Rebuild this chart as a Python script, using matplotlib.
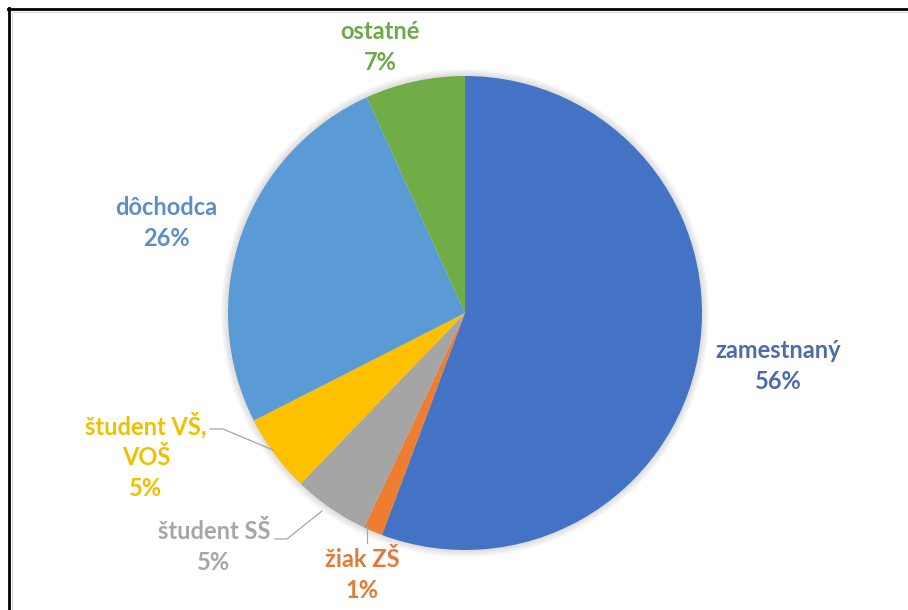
import matplotlib.pyplot as plt
from matplotlib.lines import Line2D
from matplotlib.patches import Circle

# data (percent shares)
categories = ['zamestnaný', 'žiak ZŠ', 'študent SŠ', 'študent VŠ,\nVOŠ', 'dôchodca', 'ostatné']
shares = [55.7, 1.3, 5.2, 5.3, 25.7, 6.8]
colors = ['#4472C4', '#ED7D31', '#A5A5A5', '#FFC000', '#5B9BD5', '#70AD47']
text_colors = ['#4A6DAA', '#E07B39', '#A6A6A6', '#F0C000', '#5B8FC6', '#6EA84C']

# label layout in pixels (center of the text block)
label_pos = [(778, 366), (362, 575), (214, 547), (146, 456), (166, 223), (380, 47)]
# leader lines in pixels
leaders = {
    1: [(367, 526), (367, 543)],
    2: [(275, 539), (287, 539), (322, 511)],
    3: [(210, 429), (223, 429), (273, 450)],
}

W, H = 908, 610
cx, cy, r = 465, 313, 237


def fx(x, y):
    return x / W, 1 - y / H


fig = plt.figure(figsize=(W / 100, H / 100), dpi=100)
ax = fig.add_axes([(cx - r) / W, (H - cy - r) / H, 2 * r / W, 2 * r / H])

# soft shadow round the pie
for i in range(6):
    ax.add_patch(Circle((0, 0), 1 + 0.005 * (i + 1), color='#909090',
                        alpha=0.05, zorder=0, clip_on=False, lw=0))

wedges, _ = ax.pie(shares, colors=colors, startangle=90, counterclock=False,
                   radius=1, wedgeprops=dict(linewidth=0))
for w in wedges:
    w.set_clip_on(False)
ax.set_xlim(-1, 1)
ax.set_ylim(-1, 1)
ax.axis('off')

for i, cat in enumerate(categories):
    x, y = label_pos[i]
    txt = '{}\n{:.0f}%'.format(cat, shares[i])
    fig.text(*fx(x, y), txt, ha='center', va='center', color=text_colors[i],
             fontsize=17, fontweight='bold', family=['Lato', 'DejaVu Sans'],
             linespacing=1.42)

for k, pts in leaders.items():
    xs = [p[0] / W for p in pts]
    ys = [1 - p[1] / H for p in pts]
    fig.add_artist(Line2D(xs, ys, color='#A6A6A6', lw=0.9))

# screenshot frame: black top/left, thin grey inner line
fig.add_artist(Line2D([8 / W, 1], [1 - 9 / H, 1 - 9 / H], color='black', lw=2))
fig.add_artist(Line2D([9 / W, 9 / W], [0, 1 - 8 / H], color='black', lw=2))
fig.add_artist(Line2D([12 / W, 1], [1 - 12 / H, 1 - 12 / H], color='#D9D9D9', lw=0.8))
fig.add_artist(Line2D([12 / W, 12 / W], [0, 1 - 12 / H], color='#D9D9D9', lw=0.8))

fig.savefig('out.png', dpi=100)
